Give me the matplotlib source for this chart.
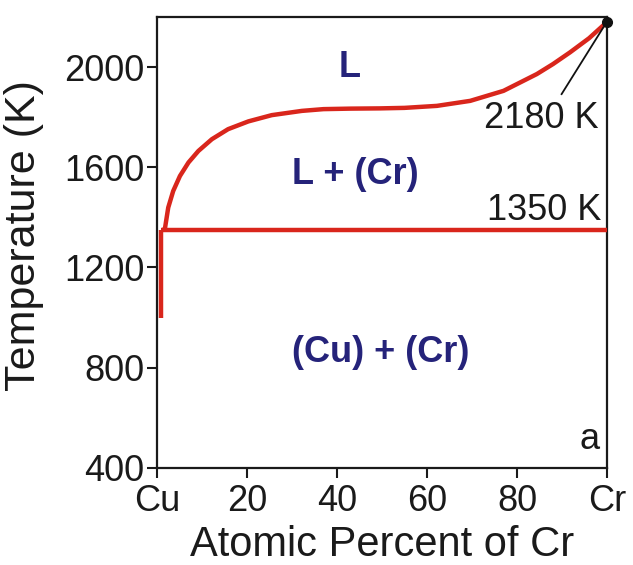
import numpy as np
import matplotlib.pyplot as plt

plt.rcParams['font.family'] = ['Liberation Sans', 'DejaVu Sans']

# liquidus curve (at.% Cr, K)
liq_x = [1.5, 1.8, 2.5, 3.6, 5.1, 7.0, 9.2, 12.2, 15.8, 20.3, 25.5, 32.2, 37.0,
         43.0, 49.6, 55.0, 62.2, 69.6, 77.0, 84.4, 88.0, 91.8, 96.0, 100.0]
liq_T = [1350, 1359, 1439, 1505, 1565, 1619, 1665, 1712, 1752, 1783, 1808, 1825, 1832,
         1834, 1835, 1837, 1845, 1865, 1905, 1972, 2012, 2059, 2115, 2180]

# 1350 K horizontal line and Cu-side vertical line
eut_x = [0.8, 100]
eut_T = [1350, 1350]
cu_x = [0.8, 0.8]
cu_T = [1000, 1350]

xticks = [0, 20, 40, 60, 80, 100]
xlabels = ['Cu', '20', '40', '60', '80', 'Cr']
yticks = [400, 800, 1200, 1600, 2000]

red = '#d9261c'
navy = '#25237a'
ink = '#1a1a1a'

fig = plt.figure(figsize=(6.33, 5.65), dpi=100)
ax = fig.add_axes([0.248, 0.172, 0.711, 0.798])

ax.plot(liq_x, liq_T, color=red, lw=3.2, solid_capstyle='butt', zorder=3)
ax.plot(eut_x, eut_T, color=red, lw=3.2, solid_capstyle='butt', zorder=3)
ax.plot(cu_x, cu_T, color=red, lw=3.2, solid_capstyle='butt', zorder=3)
ax.plot([100], [2180], 'o', color='#111111', ms=7, zorder=5, clip_on=False)
ax.plot([89.9, 99.2], [1892, 2159], color='#111111', lw=1.3, zorder=4)

fs = 26
ax.text(42.9, 2000, 'L', color=navy, fontsize=fs, fontweight='bold', ha='center', va='center')
ax.text(44, 1572, 'L + (Cr)', color=navy, fontsize=fs, fontweight='bold', ha='center', va='center')
ax.text(49.6, 860, '(Cu) + (Cr)', color=navy, fontsize=fs, fontweight='bold', ha='center', va='center')
ax.text(85.3, 1795, '2180 K', fontsize=fs, ha='center', va='center', color=ink)
ax.text(86, 1428, '1350 K', fontsize=fs, ha='center', va='center', color=ink)
ax.text(96.2, 512, 'a', fontsize=fs, ha='center', va='center', color=ink)

ax.set_xlim(0, 100)
ax.set_ylim(400, 2200)
ax.set_xticks(xticks)
ax.set_xticklabels(xlabels)
ax.set_yticks(yticks)
ax.tick_params(direction='out', length=7, width=1.5, labelsize=fs, colors=ink)
ax.tick_params(axis='x', pad=5)
ax.tick_params(axis='y', pad=2)
for s in ax.spines.values():
    s.set_linewidth(1.6)
    s.set_color(ink)

ax.set_xlabel('Atomic Percent of Cr', fontsize=30, labelpad=4, color=ink)
ax.set_ylabel('Temperature (K)', fontsize=31, color=ink)
ax.yaxis.set_label_coords(-0.25, 0.515)

fig.savefig('out.png', dpi=100)
